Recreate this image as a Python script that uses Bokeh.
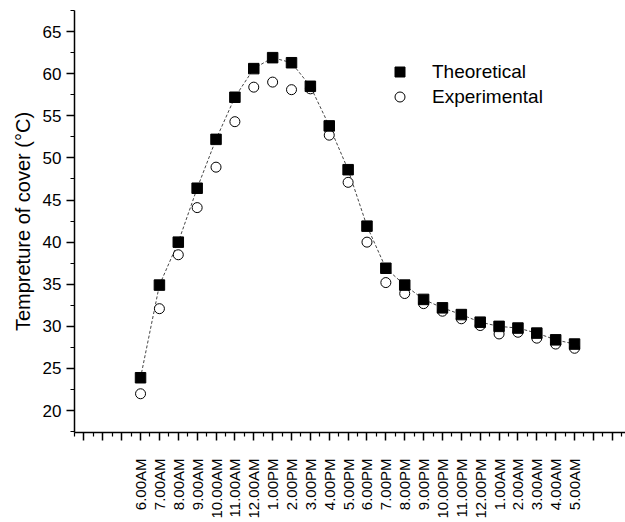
import math

from bokeh.embed import file_html
from bokeh.models import FixedTicker, Legend, LegendItem, Range1d
from bokeh.plotting import figure
from bokeh.resources import INLINE

# Hourly readings, 6 AM through 5 AM the next day
hours = ["6.00AM", "7.00AM", "8.00AM", "9.00AM", "10.00AM", "11.00AM",
         "12.00AM", "1.00PM", "2.00PM", "3.00PM", "4.00PM", "5.00PM",
         "6.00PM", "7.00PM", "8.00PM", "9.00PM", "10.00PM", "11.00PM",
         "12.00PM", "1.00AM", "2.00AM", "3.00AM", "4.00AM", "5.00AM"]

theoretical = [23.9, 34.9, 40.0, 46.4, 52.2, 57.2, 60.6, 61.9, 61.3, 58.5,
               53.8, 48.6, 41.9, 36.9, 34.9, 33.2, 32.2, 31.4, 30.5, 30.0,
               29.8, 29.2, 28.4, 27.9]

experimental = [22.0, 32.1, 38.5, 44.1, 48.9, 54.3, 58.4, 59.0, 58.1, 58.2,
                52.7, 47.1, 40.0, 35.2, 33.9, 32.7, 31.8, 30.9, 30.1, 29.1,
                29.3, 28.6, 27.9, 27.4]

y_ticks = [20, 25, 30, 35, 40, 45, 50, 55, 60, 65]

x = list(range(len(hours)))
FONT = "Liberation Sans"

p = figure(width=625, height=522, output_backend="svg", toolbar_location=None,
           x_range=Range1d(-3.5, 25.7), y_range=Range1d(17.4, 67.5),
           min_border_left=74, min_border_right=0, min_border_top=10,
           min_border_bottom=90)
p.outline_line_color = None
p.grid.visible = False
p.background_fill_color = "white"
p.border_fill_color = "white"

# Theoretical curve: thin dashed line through the squares
p.line(x, theoretical, line_color="#303030", line_width=0.9, line_dash="3 2")
r_exp = p.scatter(x, experimental, marker="circle", size=10,
                  fill_color="white", line_color="black", line_width=1)
r_th = p.scatter(x, theoretical, marker="square", size=10.5,
                 fill_color="black", line_color="black")

# Axes
xa = p.xaxis[0]
xa.ticker = FixedTicker(ticks=list(range(-3, 26)),
                        minor_ticks=[i + 0.5 for i in range(-4, 26)])
overrides = {i: "" for i in range(-3, 26)}
overrides.update({i: h for i, h in enumerate(hours)})
xa.major_label_overrides = overrides
xa.major_label_orientation = math.pi / 2
xa.major_label_text_font = FONT
xa.major_label_text_font_size = "15px"
xa.major_label_standoff = 18

ya = p.yaxis[0]
ya.ticker = FixedTicker(ticks=y_ticks,
                        minor_ticks=[17.5 + 2.5 * i for i in range(21)])
ya.major_label_text_font = FONT
ya.major_label_text_font_size = "17px"
ya.major_label_standoff = 5
ya.axis_label = "Tempreture of cover (°C)"
ya.axis_label_text_font = FONT
ya.axis_label_text_font_size = "20px"
ya.axis_label_text_font_style = "normal"
ya.axis_label_text_color = "black"
ya.axis_label_standoff = 6

for ax in (xa, ya):
    ax.axis_line_color = "black"
    ax.axis_line_width = 1.5
    ax.major_tick_line_color = "black"
    ax.major_tick_line_width = 1.5
    ax.minor_tick_line_color = "black"
    ax.minor_tick_line_width = 1.2
    ax.major_tick_out = 8
    ax.major_tick_in = 0
    ax.minor_tick_out = 4
    ax.minor_tick_in = 0
    ax.major_label_text_color = "black"

legend = Legend(items=[LegendItem(label="Theoretical", renderers=[r_th]),
                       LegendItem(label="Experimental", renderers=[r_exp])],
                location=(313, 323), orientation="vertical",
                border_line_color=None, background_fill_alpha=0,
                padding=0, margin=0, spacing=0,
                glyph_width=25, glyph_height=25, label_standoff=20,
                label_text_font=FONT, label_text_font_size="19px",
                label_text_color="black")
p.add_layout(legend, "center")

open("out.html", "w").write(file_html(p, INLINE))
